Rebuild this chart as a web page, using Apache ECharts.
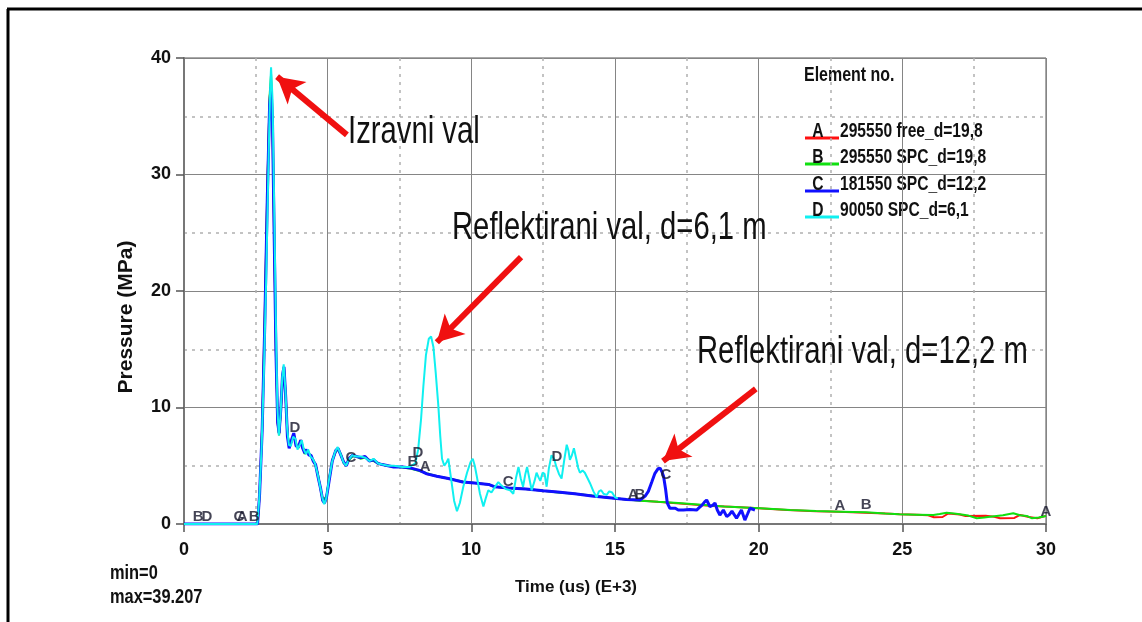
<!DOCTYPE html>
<html><head><meta charset="utf-8">
<script src="https://cdn.jsdelivr.net/npm/echarts@6/dist/echarts.min.js"></script>
<style>html,body{margin:0;padding:0;background:#fff;}#c{width:1142px;height:622px;}</style>
</head><body><div id="c"></div>
<script>
// ---- tick labels ----
const xTicks = [0, 5, 10, 15, 20, 25, 30];
const yTicks = [0, 10, 20, 30, 40];

// ---- series names / legend ----
const seriesLetters = ['A', 'B', 'C', 'D'];
const seriesTexts = ['295550 free_d=19,8', '295550 SPC_d=19,8', '181550 SPC_d=12,2', '90050 SPC_d=6,1'];
const seriesColors = ['#ff1010', '#10e010', '#1010ff', '#10f0f0'];

// ---- series values [time (us E+3), pressure (MPa)] ----
const dataA = [[0,0],[2.56,0],[2.63,2.6],[2.72,8.5],[2.81,18],[2.9,29],[2.98,36.5],[3.03,38.0],[3.08,34],[3.14,24],[3.2,14.5],[3.26,8.6],[3.31,7.7],[3.37,9.8],[3.43,12.6],[3.48,13.3],[3.54,10.8],[3.6,7.6],[3.66,6.6],[3.74,7.1],[3.82,7.7],[3.9,6.8],[3.98,6.6],[4.06,7.2],[4.13,6.6],[4.2,6.1],[4.27,6.4],[4.35,6.0],[4.42,5.9],[4.5,5.4],[4.58,5.1],[4.66,4.2],[4.75,3.1],[4.83,2.1],[4.89,1.8],[4.96,2.3],[5.05,3.8],[5.16,5.4],[5.28,6.3],[5.36,6.5],[5.46,5.9],[5.56,5.3],[5.65,5.0],[5.74,5.6],[5.86,5.9],[6.0,5.8],[6.15,5.7],[6.3,5.8],[6.45,5.4],[6.6,5.5],[6.75,5.2],[6.9,5.1],[7.1,5.0],[7.3,4.9],[7.6,4.9],[7.9,4.8],[8.2,4.6],[8.45,4.3],[8.8,4.1],[9.2,3.9],[9.7,3.6],[10.2,3.5],[10.6,3.4],[10.8,3.2],[11.3,3.1],[11.9,3.0],[12.5,2.85],[13.0,2.75],[13.6,2.6],[14.2,2.4],[14.8,2.25],[15.4,2.1],[16.0,2.0],[16.8,1.85],[17.6,1.7],[18.4,1.55],[19.2,1.45],[20.0,1.35],[21.0,1.2],[22.0,1.1],[22.8,1.05],[23.7,0.97],[24.4,0.9],[24.9,0.83],[25.5,0.8],[25.9,0.75],[26.1,0.58],[26.4,0.6],[26.6,0.9],[27.0,0.82],[27.2,0.68],[27.9,0.7],[28.2,0.62],[28.4,0.5],[28.9,0.52],[29.1,0.78],[29.4,0.6],[29.7,0.5],[30,0.7]];

const dataB = [[0,0],[2.56,0],[2.63,2.4],[2.72,8.2],[2.81,17.5],[2.9,28.5],[2.98,36.8],[3.03,38.6],[3.08,35],[3.14,25],[3.2,15],[3.26,8.8],[3.31,7.6],[3.37,9.6],[3.43,12.4],[3.48,13.4],[3.54,11.0],[3.6,7.8],[3.66,6.7],[3.74,7.0],[3.82,7.6],[3.9,6.9],[3.98,6.5],[4.06,7.1],[4.13,6.7],[4.2,6.0],[4.27,6.3],[4.35,6.1],[4.42,5.8],[4.5,5.5],[4.58,5.0],[4.66,4.3],[4.75,3.0],[4.83,2.0],[4.89,1.9],[4.96,2.4],[5.05,3.9],[5.16,5.5],[5.28,6.2],[5.36,6.4],[5.46,6.0],[5.56,5.2],[5.65,5.1],[5.74,5.5],[5.86,5.8],[6.0,5.8],[6.15,5.6],[6.3,5.7],[6.45,5.5],[6.6,5.4],[6.75,5.2],[6.9,5.1],[7.1,5.0],[7.3,4.95],[7.6,4.85],[7.9,4.75],[8.2,4.55],[8.45,4.35],[8.8,4.1],[9.2,3.9],[9.7,3.65],[10.2,3.5],[10.6,3.4],[10.8,3.2],[11.3,3.1],[11.9,3.0],[12.5,2.85],[13.0,2.7],[13.6,2.6],[14.2,2.45],[14.8,2.25],[15.4,2.1],[15.87,2.0],[16.5,1.9],[17.2,1.8],[18.0,1.65],[18.8,1.5],[19.5,1.42],[20.05,1.35],[21.1,1.2],[22.0,1.12],[22.83,1.06],[23.74,1.0],[24.4,0.9],[24.9,0.83],[25.5,0.8],[26.08,0.77],[26.3,0.85],[26.54,0.97],[26.8,0.9],[27.0,0.83],[27.3,0.72],[27.59,0.49],[27.85,0.55],[28.05,0.63],[28.5,0.75],[28.86,0.92],[29.1,0.75],[29.33,0.69],[29.5,0.5],[29.75,0.55],[30,0.69]];

const dataC = [[0,0],[2.56,0],[2.63,2.5],[2.72,8.0],[2.81,17],[2.9,28],[2.98,36.0],[3.03,37.5],[3.08,34.5],[3.14,24.5],[3.2,14.8],[3.26,8.7],[3.31,7.8],[3.37,9.9],[3.43,12.8],[3.48,13.5],[3.54,10.9],[3.6,7.5],[3.66,6.5],[3.74,7.2],[3.82,7.8],[3.9,6.7],[3.98,6.6],[4.06,7.2],[4.13,6.5],[4.2,6.1],[4.27,6.4],[4.35,5.9],[4.42,5.9],[4.5,5.4],[4.58,5.1],[4.66,4.1],[4.75,3.1],[4.83,2.0],[4.89,1.8],[4.96,2.3],[5.05,3.7],[5.16,5.4],[5.28,6.3],[5.36,6.5],[5.46,5.9],[5.56,5.3],[5.65,5.0],[5.74,5.6],[5.86,5.9],[6.0,5.8],[6.15,5.7],[6.3,5.8],[6.45,5.4],[6.6,5.5],[6.75,5.2],[6.9,5.1],[7.1,5.0],[7.3,4.9],[7.6,4.9],[7.9,4.8],[8.2,4.6],[8.45,4.3],[8.8,4.1],[9.2,3.9],[9.7,3.6],[10.2,3.5],[10.6,3.4],[10.8,3.2],[11.3,3.1],[11.9,3.0],[12.5,2.85],[13.0,2.75],[13.6,2.6],[14.2,2.4],[14.8,2.25],[15.4,2.1],[15.87,2.06],[16.05,2.4],[16.16,2.8],[16.28,3.6],[16.39,4.35],[16.5,4.75],[16.57,4.8],[16.63,4.5],[16.69,4.1],[16.76,3.0],[16.82,1.8],[16.91,1.35],[17.1,1.35],[17.2,1.2],[17.38,1.2],[17.6,1.25],[17.84,1.2],[17.93,1.4],[18.02,1.6],[18.12,1.9],[18.19,2.06],[18.3,1.5],[18.4,1.6],[18.48,1.8],[18.56,1.2],[18.65,0.77],[18.77,1.2],[18.89,0.63],[18.98,0.8],[19.07,1.1],[19.23,0.49],[19.4,1.2],[19.52,0.34],[19.62,0.9],[19.7,1.35],[19.87,1.2]];

const dataD = [[0,0],[2.55,0],[2.62,2.2],[2.7,6.5],[2.78,13],[2.86,21],[2.94,31],[3.0,37.5],[3.03,39.207],[3.08,36.5],[3.14,27],[3.2,17],[3.25,10],[3.3,7.6],[3.36,9.4],[3.42,12.6],[3.47,13.7],[3.53,11.5],[3.59,8.2],[3.65,6.8],[3.72,6.7],[3.8,7.5],[3.88,7.3],[3.95,6.4],[4.03,6.8],[4.1,7.2],[4.17,6.4],[4.25,6.0],[4.32,6.4],[4.4,5.8],[4.48,5.6],[4.56,5.2],[4.65,4.3],[4.74,3.2],[4.82,2.2],[4.88,1.7],[4.95,2.2],[5.04,3.7],[5.15,5.3],[5.26,6.2],[5.35,6.6],[5.45,6.0],[5.55,5.3],[5.64,5.0],[5.73,5.5],[5.85,5.9],[6.0,5.8],[6.15,5.8],[6.3,5.7],[6.45,5.4],[6.6,5.6],[6.75,5.2],[6.9,5.1],[7.1,5.0],[7.3,5.0],[7.6,4.9],[7.85,4.9],[8.05,5.2],[8.15,6.4],[8.25,9.0],[8.33,11.8],[8.42,14.5],[8.52,15.9],[8.6,16.1],[8.68,15.2],[8.76,13.0],[8.85,10.2],[8.92,7.5],[8.98,5.6],[9.06,5.0],[9.14,5.3],[9.2,5.6],[9.3,3.8],[9.4,2.0],[9.5,1.1],[9.6,1.8],[9.72,3.2],[9.85,4.4],[9.97,5.3],[10.05,5.6],[10.12,5.0],[10.19,4.1],[10.3,2.6],[10.42,1.5],[10.5,2.2],[10.59,2.9],[10.7,2.7],[10.8,3.1],[10.94,3.6],[11.05,3.3],[11.2,3.0],[11.35,2.9],[11.46,2.6],[11.55,3.9],[11.64,4.9],[11.72,3.9],[11.8,3.2],[11.88,4.3],[11.94,4.9],[12.02,3.9],[12.1,2.9],[12.2,3.7],[12.27,4.4],[12.34,4.0],[12.4,3.7],[12.48,4.4],[12.55,4.3],[12.62,3.2],[12.7,4.8],[12.79,5.9],[12.88,5.6],[12.96,4.9],[13.05,4.3],[13.14,3.9],[13.24,5.6],[13.32,6.8],[13.38,6.3],[13.43,5.5],[13.5,5.9],[13.57,6.5],[13.65,5.6],[13.72,4.8],[13.78,4.4],[13.87,4.6],[13.95,4.4],[14.05,3.9],[14.13,3.5],[14.25,2.8],[14.36,2.3],[14.44,2.8],[14.52,2.9],[14.6,2.6],[14.71,2.5],[14.8,2.8],[14.9,2.7],[15.0,2.3],[15.1,2.2]];

// ---- curve identifier letters placed on the curves ----
const letterPtsA = [[2.02,0],[8.39,4.3],[15.63,1.9],[22.83,0.94],[30,0.43]];
const letterPtsB = [[0.49,0],[2.44,0],[7.97,4.7],[15.87,1.9],[23.74,1.03]];
const letterPtsC = [[1.91,0],[5.81,5.06],[11.28,3.0],[16.77,3.6]];
const letterPtsD = [[0.8,0],[3.86,7.6],[8.14,5.5],[12.98,5.15]];

// ---- annotation arrows [tail, tip] in data units ----
const arrowIzravni = [[5.67,33.4],[3.24,38.4]];
const arrowRefl6 = [[11.73,22.9],[8.8,15.6]];
const arrowRefl12 = [[19.9,11.6],[16.67,5.4]];
const annotationTexts = ['Izravni val', 'Reflektirani val, d=6,1 m', 'Reflektirani val, d=12,2 m'];

const minText = 'min=0';
const maxText = 'max=39.207';

const SANS = "'Liberation Sans',Arial,sans-serif";

const chart = echarts.init(document.getElementById('c'), null, {renderer: 'canvas'});

const lineWidths = [2, 2, 3, 2];
const lineSeries = [dataA, dataB, dataC, dataD].map((d, i) => ({
  name: seriesLetters[i],
  type: 'line',
  data: d,
  showSymbol: false,
  symbol: 'none',
  lineStyle: {color: seriesColors[i], width: lineWidths[i]},
  itemStyle: {color: seriesColors[i]},
  z: 2 + i,
  silent: true
}));

const letterSeries = [letterPtsA, letterPtsB, letterPtsC, letterPtsD].map((d, i) => ({
  name: 'lbl' + seriesLetters[i],
  type: 'scatter',
  data: d,
  symbolSize: 0,
  z: 10,
  silent: true,
  label: {
    show: true, position: 'top', distance: 0,
    formatter: seriesLetters[i],
    fontFamily: SANS, fontWeight: 'bold', fontSize: 15, color: '#15152a'
  }
}));

const arrowSeries = {
  name: 'arrows', type: 'line', data: [], silent: true, z: 20,
  markLine: {
    silent: true, animation: false,
    symbol: ['none', 'arrow'], symbolSize: [22, 26],
    label: {show: false},
    lineStyle: {color: '#f01010', width: 6, type: 'solid'},
    emphasis: {disabled: true},
    data: [arrowIzravni, arrowRefl6, arrowRefl12].map(a => [{coord: a[0]}, {coord: a[1]}])
  }
};

const legendGraphics = [{
  type: 'text', x: 804, y: 75, scaleX: 0.76,
  style: {text: 'Element no.', font: 'bold 21px ' + SANS, fill: '#111', verticalAlign: 'middle', align: 'left'}
}];
const rowY = [131, 157, 184, 210];
seriesLetters.forEach((L, i) => {
  legendGraphics.push({type: 'line', shape: {x1: 805, y1: rowY[i] + 7, x2: 839, y2: rowY[i] + 7},
    style: {stroke: seriesColors[i], lineWidth: 3}});
  legendGraphics.push({type: 'text', x: 818, y: rowY[i], scaleX: 0.78,
    style: {text: L, font: 'bold 20px ' + SANS, fill: '#111', verticalAlign: 'middle', align: 'center'}});
  legendGraphics.push({type: 'text', x: 840, y: rowY[i], scaleX: 0.78,
    style: {text: seriesTexts[i], font: 'bold 20px ' + SANS, fill: '#111', verticalAlign: 'middle', align: 'left'}});
});

const annoPos = [[348, 132], [452, 228], [697, 352]];
const annoGraphics = annotationTexts.map((t, i) => ({
  type: 'text', x: annoPos[i][0], y: annoPos[i][1], scaleX: 0.75, z: 30,
  style: {text: t, font: '39px ' + SANS, fill: '#111', verticalAlign: 'middle', align: 'left'}
}));

const option = {
  animation: false,
  backgroundColor: '#fff',
  grid: {left: 184, right: 96, top: 58, bottom: 98, show: true, borderColor: '#555', borderWidth: 1, containLabel: false},
  xAxis: {
    type: 'value', min: xTicks[0], max: xTicks[xTicks.length - 1], interval: xTicks[1] - xTicks[0],
    name: 'Time (us) (E+3)', nameLocation: 'middle', nameGap: 55,
    nameTextStyle: {fontFamily: SANS, fontWeight: 'bold', fontSize: 17, color: '#111', padding: [0, 78, 0, 0]},
    axisLine: {show: true, lineStyle: {color: '#777', width: 2}},
    axisTick: {show: true, inside: false, length: 8, lineStyle: {color: '#555', width: 1.5}},
    axisLabel: {fontFamily: SANS, fontWeight: 'bold', fontSize: 18, color: '#111', margin: 17},
    splitLine: {show: true, lineStyle: {color: '#858585', width: 1}},
    minorTick: {show: false, splitNumber: 2},
    minorSplitLine: {show: true, lineStyle: {color: '#b0b0b0', width: 1.5, type: [3, 5]}}
  },
  yAxis: {
    type: 'value', min: yTicks[0], max: yTicks[yTicks.length - 1], interval: yTicks[1] - yTicks[0],
    name: 'Pressure (MPa)', nameLocation: 'middle', nameGap: 47,
    nameTextStyle: {fontFamily: SANS, fontWeight: 'bold', fontSize: 21, color: '#111', padding: [0, 52, 0, 0]},
    axisLine: {show: true, lineStyle: {color: '#777', width: 2}},
    axisTick: {show: true, inside: false, length: 8, lineStyle: {color: '#555', width: 1.5}},
    axisLabel: {fontFamily: SANS, fontWeight: 'bold', fontSize: 18, color: '#111', margin: 13},
    splitLine: {show: true, lineStyle: {color: '#858585', width: 1}},
    minorTick: {show: false, splitNumber: 2},
    minorSplitLine: {show: true, lineStyle: {color: '#b0b0b0', width: 1.5, type: [3, 5]}}
  },
  series: lineSeries.concat(letterSeries, [arrowSeries]),
  graphic: [
    {type: 'line', shape: {x1: 7, y1: 9, x2: 1142, y2: 9}, style: {stroke: '#000', lineWidth: 3}},
    {type: 'line', shape: {x1: 8, y1: 9, x2: 8, y2: 622}, style: {stroke: '#000', lineWidth: 3}},
    {type: 'text', x: 110, y: 573, scaleX: 0.78, style: {text: minText, font: 'bold 21px ' + SANS, fill: '#111', verticalAlign: 'middle', align: 'left'}},
    {type: 'text', x: 110, y: 597, scaleX: 0.78, style: {text: maxText, font: 'bold 21px ' + SANS, fill: '#111', verticalAlign: 'middle', align: 'left'}}
  ].concat(legendGraphics, annoGraphics)
};
chart.setOption(option);
</script>
</body></html>
